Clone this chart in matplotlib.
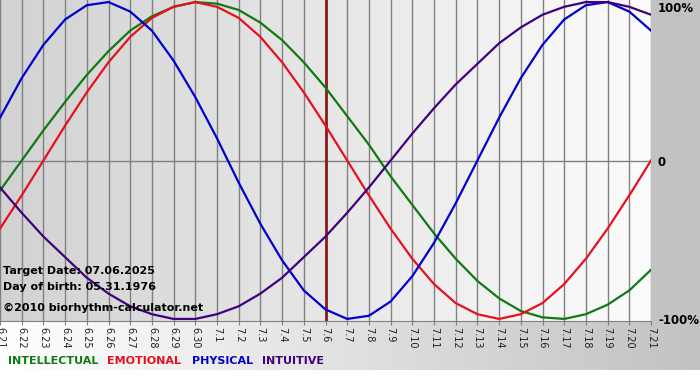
import numpy as np
import matplotlib
matplotlib.use('Agg')
import matplotlib.pyplot as plt
from matplotlib.colors import LinearSegmentedColormap

# day labels 6.21 .. 7.21
DAYS = ['6.21', '6.22', '6.23', '6.24', '6.25', '6.26', '6.27', '6.28', '6.29', '6.30',
        '7.1', '7.2', '7.3', '7.4', '7.5', '7.6', '7.7', '7.8', '7.9', '7.10',
        '7.11', '7.12', '7.13', '7.14', '7.15', '7.16', '7.17', '7.18', '7.19', '7.20', '7.21']

# values, one per day (-1 .. 1)
INTELLECTUAL = [-0.19, 0.00, 0.19, 0.37, 0.54, 0.69, 0.82, 0.91, 0.97, 1.00,
                0.99, 0.95, 0.87, 0.76, 0.62, 0.46, 0.28, 0.10, -0.10, -0.28,
                -0.46, -0.62, -0.76, -0.87, -0.95, -0.99, -1.00, -0.97, -0.91, -0.82, -0.69]
EMOTIONAL = [-0.43, -0.22, 0.00, 0.22, 0.43, 0.62, 0.78, 0.90, 0.97, 1.00,
             0.97, 0.90, 0.78, 0.62, 0.43, 0.22, 0.00, -0.22, -0.43, -0.62,
             -0.78, -0.90, -0.97, -1.00, -0.97, -0.90, -0.78, -0.62, -0.43, -0.22, 0.00]
PHYSICAL = [0.27, 0.52, 0.73, 0.89, 0.98, 1.00, 0.94, 0.82, 0.63, 0.40,
            0.14, -0.14, -0.40, -0.63, -0.82, -0.94, -1.00, -0.98, -0.89, -0.73,
            -0.52, -0.27, 0.00, 0.27, 0.52, 0.73, 0.89, 0.98, 1.00, 0.94, 0.82]
INTUITIVE = [-0.17, -0.33, -0.48, -0.61, -0.74, -0.84, -0.92, -0.97, -1.00, -1.00,
             -0.97, -0.92, -0.84, -0.74, -0.61, -0.48, -0.33, -0.17, 0.00, 0.17,
             0.33, 0.48, 0.61, 0.74, 0.84, 0.92, 0.97, 1.00, 1.00, 0.97, 0.92]

SERIES = ['INTELLECTUAL', 'EMOTIONAL', 'PHYSICAL', 'INTUITIVE']
COLORS = ['#107a10', '#e8101c', '#0000d0', '#42007e']
TARGET_DAY = '7.6'

W, H = 700, 380
fig = plt.figure(figsize=(W / 100, H / 100), dpi=100, facecolor='white')

# ----------------------------------------------------
# background (pixel coords)
# ----------------------------------------------------
bg = fig.add_axes([0, 0, 1, 1])
bg.set_xlim(0, W)
bg.set_ylim(H, 0)
bg.axis('off')
grey_cmap = LinearSegmentedColormap.from_list('g', ['#ffffff', '#c2c2c2'])
bg.imshow(np.linspace(0, 1, 256)[None, :], cmap=grey_cmap, aspect='auto',
          extent=[0, W, 370, 321], zorder=0)
bg.add_patch(plt.Rectangle((651, 0), W - 651, 321, color='#c2c2c2', lw=0, zorder=0))

# ----------------------------------------------------
# main chart
# ----------------------------------------------------
ax = fig.add_axes([0, 1 - 321 / H, 651 / W, 321 / H])
x = np.arange(len(DAYS))
ax.set_xlim(0, len(DAYS) - 1)
ax.set_ylim(-1.013, 1.013)

plot_cmap = LinearSegmentedColormap.from_list('p', ['#d2d2d2', '#fcfcfc'])
ax.imshow(np.linspace(0, 1, 256)[None, :], cmap=plot_cmap, aspect='auto',
          extent=[0, len(DAYS) - 1, -1.013, 1.013], zorder=0)

for xi in x:
    ax.axvline(xi, color='#808080', lw=1.0, zorder=1)
ax.axhline(0, color='#808080', lw=1.0, zorder=1)
ax.axvline(DAYS.index(TARGET_DAY), color='#8b1a1a', lw=2.0, zorder=2)

for name, color in zip(SERIES, COLORS):
    ax.plot(x, globals()[name], color=color, lw=1.6, zorder=3, solid_joinstyle='round')

for s in ['top', 'left', 'right']:
    ax.spines[s].set_visible(False)
ax.spines['bottom'].set_color('#808080')

ax.set_xticks(x)
ax.set_xticklabels(DAYS, rotation=270, fontsize=7, color='#202020')
ax.tick_params(axis='x', length=3, color='#808080', pad=1)

ax.yaxis.tick_right()
ax.set_yticks([1, 0, -1])
ax.set_yticklabels(['100%', '0', '-100%'], fontsize=8.5, fontweight='bold')
ax.tick_params(axis='y', length=0, pad=5)
ax.get_yticklabels()[0].set_va('top')

info = ['Target Date: 07.06.2025', 'Day of birth: 05.31.1976']
ax.text(0.005, 0.156, info[0], transform=ax.transAxes, fontsize=8, fontweight='bold', va='center')
ax.text(0.005, 0.106, info[1], transform=ax.transAxes, fontsize=8, fontweight='bold', va='center')
ax.text(0.005, 0.040, '\u00a92010 biorhythm-calculator.net', transform=ax.transAxes,
        fontsize=8, fontweight='bold', va='center')

# legend text row
legend_x = [8, 107, 192, 262]
for name, color, lx in zip(SERIES, COLORS, legend_x):
    fig.text(lx / W, 1 - 361 / H, name, color=color, fontsize=8, fontweight='bold', va='center')

fig.savefig('out.png', dpi=100)
